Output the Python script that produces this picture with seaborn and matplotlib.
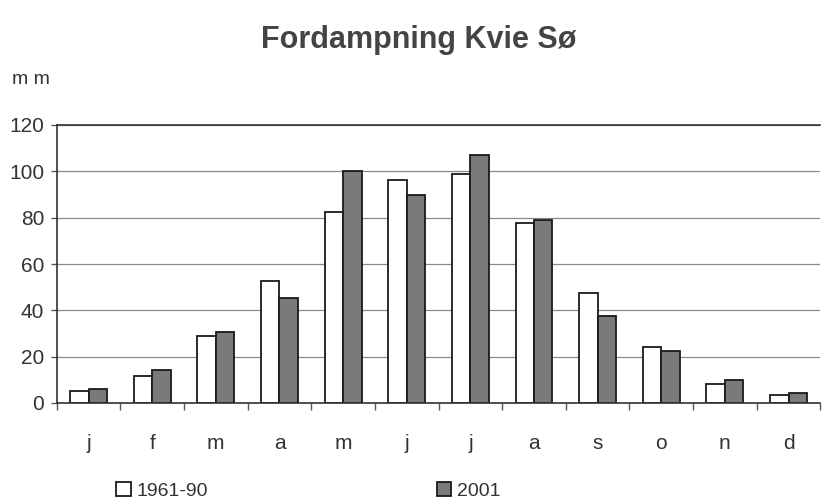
import numpy as np
import pandas as pd
import matplotlib
matplotlib.use("Agg")
import matplotlib.pyplot as plt
import seaborn as sns
from matplotlib.ticker import FixedLocator

months = ["j", "f", "m", "a", "m", "j", "j", "a", "s", "o", "n", "d"]
normal_1961_90 = [5.3, 11.8, 28.9, 52.8, 82.4, 96.4, 99, 77.5, 47.5, 24.3, 8.3, 3.3]
year_2001 = [6.1, 14.1, 30.6, 45.3, 100, 90, 107, 79, 37.5, 22.6, 10, 4.2]
series_names = ["1961-90", "2001"]

sns.set_theme(style="white")
plt.rcParams["font.family"] = ["Liberation Sans", "DejaVu Sans"]

rows = []
for i, m in enumerate(months):
    rows.append({"idx": i, "value": normal_1961_90[i], "series": series_names[0]})
    rows.append({"idx": i, "value": year_2001[i], "series": series_names[1]})
df = pd.DataFrame(rows)

fig = plt.figure(figsize=(8.22, 5.0), dpi=100)
ax = fig.add_axes([0.069, 0.194, 0.929, 0.556])

sns.barplot(data=df, x="idx", y="value", hue="series", palette=["white", "#7a7a7a"],
            width=0.58, dodge=True, gap=0, edgecolor="#1a1a1a", linewidth=1.3,
            saturation=1, ax=ax, legend=True, native_scale=False)

handles, labels = ax.get_legend_handles_labels()
ax.get_legend().remove()

ax.set_xlim(-0.5, 11.5)
ax.set_ylim(0, 120)
ax.set_yticks(range(0, 121, 20))
ax.set_xticks(range(12))
ax.set_xticklabels(months)
ax.xaxis.set_minor_locator(FixedLocator(np.arange(-0.5, 12, 1)))
ax.tick_params(axis="x", which="major", length=0, pad=22, labelsize=15, colors="#333333")
ax.tick_params(axis="x", which="minor", length=5, width=1, color="#555555", bottom=True)
ax.tick_params(axis="y", length=4, width=1, color="#555555", labelsize=15, colors="#333333",
               left=True, pad=5)
ax.grid(axis="y", color="#8a8a8a", linewidth=0.9)
ax.set_axisbelow(True)
ax.set_xlabel("")
ax.set_ylabel("")
for side in ["left", "bottom", "top"]:
    ax.spines[side].set_visible(True)
    ax.spines[side].set_color("#333333")
    ax.spines[side].set_linewidth(1.2)
ax.spines["right"].set_visible(False)

fig.text(0.509, 0.92, "Fordampning Kvie Sø", ha="center", va="center",
         fontsize=22, fontweight="bold", color="#444444")
fig.text(0.014, 0.842, "m m", ha="left", va="center", fontsize=14, color="#333333")

leg1 = fig.legend([handles[0]], [labels[0]], loc="center left", bbox_to_anchor=(0.132, 0.018),
                  frameon=False, fontsize=14, handlelength=0.75, handleheight=0.75,
                  handletextpad=0.3, borderaxespad=0)
leg2 = fig.legend([handles[1]], [labels[1]], loc="center left", bbox_to_anchor=(0.522, 0.018),
                  frameon=False, fontsize=14, handlelength=0.75, handleheight=0.75,
                  handletextpad=0.3, borderaxespad=0)
for leg in (leg1, leg2):
    for t in leg.get_texts():
        t.set_color("#333333")

fig.savefig("out.png", dpi=100)
